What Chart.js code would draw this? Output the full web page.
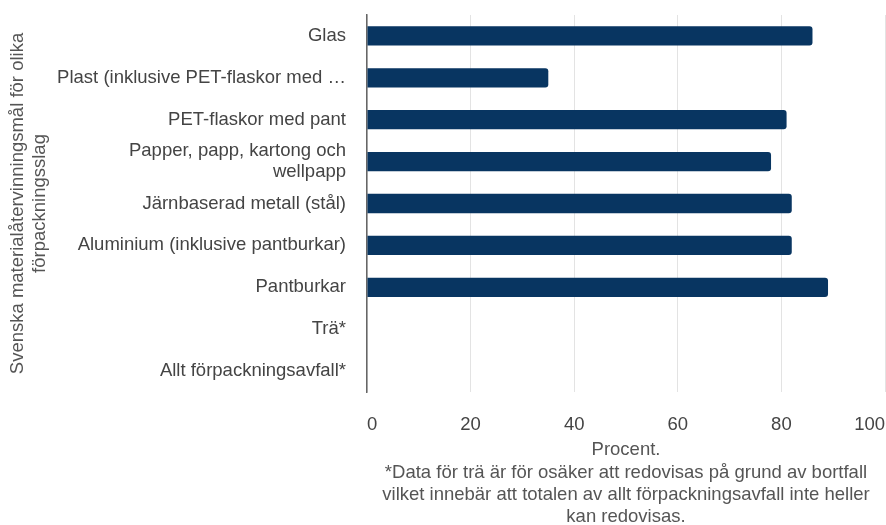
<!DOCTYPE html>
<html>
<head>
<meta charset="utf-8">
<script src="https://cdn.jsdelivr.net/npm/chart.js@4"></script>
<style>
html,body{margin:0;padding:0;background:#fff;overflow:hidden;}
#wrap{width:886px;height:525px;position:relative;}
</style>
</head>
<body>
<div id="wrap"><canvas id="c"></canvas></div>
<script>
const categories = [
  "Glas",
  "Plast (inklusive PET-flaskor med …",
  "PET-flaskor med pant",
  ["Papper, papp, kartong och", "wellpapp"],
  "Järnbaserad metall (stål)",
  "Aluminium (inklusive pantburkar)",
  "Pantburkar",
  "Trä*",
  "Allt förpackningsavfall*"
];
const values = [86, 35, 81, 78, 82, 82, 89, null, null];
const xTicks = [0, 20, 40, 60, 80, 100];
const yTitle = ["Svenska materialåtervinningsmål för olika", "förpackningsslag"];
const xTitle = [
  "Procent.",
  "*Data för trä är för osäker att redovisas på grund av bortfall",
  "vilket innebär att totalen av allt förpackningsavfall inte heller",
  "kan redovisas."
];

const FONT = "'Liberation Sans', Arial, sans-serif";
new Chart(document.getElementById('c'), {
  type: 'bar',
  data: {
    labels: categories,
    datasets: [{
      data: values,
      backgroundColor: '#083561',
      borderRadius: 3,
      borderSkipped: 'start',
      barPercentage: 0.46,
      categoryPercentage: 1
    }]
  },
  options: {
    indexAxis: 'y',
    responsive: true,
    maintainAspectRatio: false,
    animation: false,
    layout: { padding: { top: 15, right: 1, left: 0, bottom: 0 } },
    plugins: { legend: { display: false }, tooltip: { enabled: false } },
    scales: {
      x: {
        min: 0, max: 100,
        afterBuildTicks: (s) => { s.ticks = xTicks.map(v => ({ value: v })); },
        afterFit: (s) => { s.height = 133; s.paddingLeft = 0; s.paddingRight = 0; },
        grid: { color: '#e3e3e3', lineWidth: 1, drawTicks: false },
        border: { display: false },
        ticks: { color: '#444', padding: 22, align: 'inner', font: { family: FONT, size: 18.5, lineHeight: 1.2 } },
        title: {
          display: true, text: xTitle, color: '#555',
          font: { family: FONT, size: 18.5, lineHeight: 1.2 },
          padding: { top: 0, bottom: -3 }
        }
      },
      y: {
        afterFit: (s) => { s.width = 367; s.paddingTop = 0; s.paddingBottom = 0; },
        grid: { display: false, drawTicks: false },
        border: { display: true, color: '#666', width: 1.5 },
        ticks: { color: '#444', padding: 21, autoSkip: false, font: { family: FONT, size: 18.5, lineHeight: 1.13 } },
        title: {
          display: true, text: yTitle, color: '#555',
          font: { family: FONT, size: 18.5, lineHeight: 1.19 },
          padding: { top: 7, bottom: 0 }
        }
      }
    }
  }
});
</script>
</body>
</html>
